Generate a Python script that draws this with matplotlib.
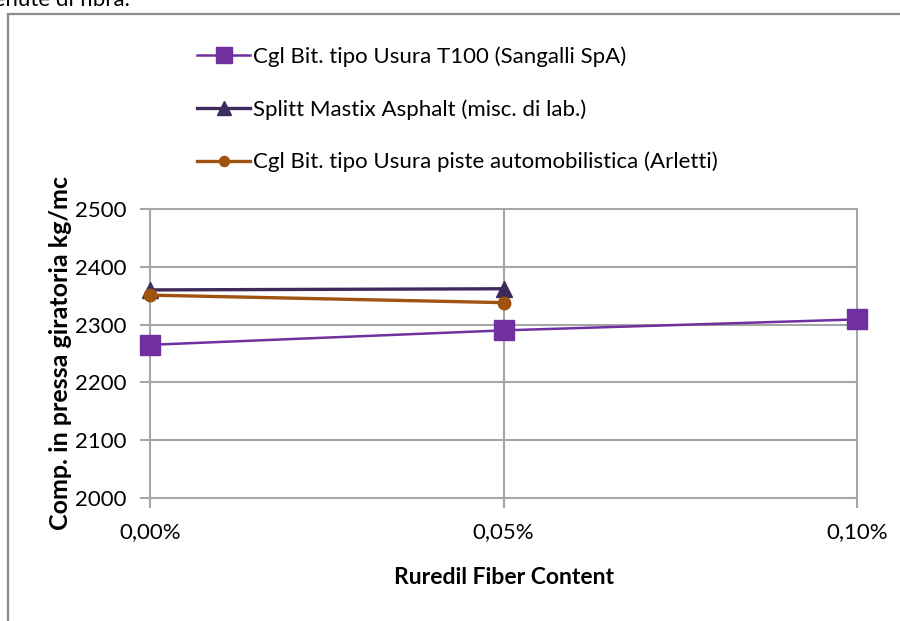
import matplotlib.pyplot as plt
from matplotlib.patches import Rectangle

plt.rcParams['font.family'] = ['Lato', 'DejaVu Sans']

# fibre content (fraction) and density values
fibre = [0.0, 0.0005, 0.0010]
fibre_labels = ["0,00%", "0,05%", "0,10%"]
sangalli = [2265, 2290, 2309]
splitt = [2360, 2362]
arletti = [2351, 2338]

labels = ["Cgl Bit. tipo Usura T100 (Sangalli SpA)",
          "Splitt Mastix Asphalt (misc. di lab.)",
          "Cgl Bit. tipo Usura piste automobilistica (Arletti)"]

fig = plt.figure(figsize=(9, 6.21), dpi=100)
ax = fig.add_axes([150/900, 1-498/621, (857-150)/900, (498-209)/621])

# outer chart border
fig.patches.append(Rectangle((8/900, -0.1), 1.2, 1-14/621+0.1, transform=fig.transFigure,
                             fill=False, edgecolor='#8c8c8c', linewidth=1.6))
fig.text(-50/900, 1-6/621, "contenute di fibra.", fontsize=16, va='baseline', ha='left')

grid = '#a6a6a6'
ax.plot(fibre, sangalli, color='#7030a0', linewidth=1.8, marker='s', markersize=14,
        label=labels[0], zorder=3, clip_on=False)
ax.plot(fibre[:2], splitt, color='#3f2a5c', linewidth=2.4, marker='^', markersize=12,
        label=labels[1], zorder=4, clip_on=False)
ax.plot(fibre[:2], arletti, color='#a0520f', linewidth=2.4, marker='o', markersize=9,
        label=labels[2], zorder=5, clip_on=False)

ax.set_xlim(0, 0.001)
ax.set_ylim(2000, 2500)
ax.set_yticks(range(2000, 2501, 100))
ax.set_xticks(fibre)
ax.set_xticklabels(fibre_labels)
for s in ax.spines.values():
    s.set_visible(False)
ax.grid(True, color=grid, linewidth=1.5)
ax.tick_params(axis='both', color=grid, width=1.5, length=7, labelsize=16)
ax.tick_params(axis='y', pad=10)
ax.tick_params(axis='x', pad=10)
for line in ax.get_xgridlines() + ax.get_ygridlines():
    line.set_clip_on(False)

ax.set_xlabel("Ruredil Fiber Content", fontsize=16.5, fontweight='bold', labelpad=18)
ax.set_ylabel("Comp. in pressa giratoria kg/mc", fontsize=18, fontweight='bold', labelpad=2)

ax.legend(loc='upper left', bbox_to_anchor=(186/900, 1-35/621), bbox_transform=fig.transFigure,
          frameon=False, fontsize=16, handlelength=2.4, handletextpad=0.1,
          labelspacing=1.45, markerscale=0.8, borderpad=0)

fig.savefig("out.png", dpi=100)
